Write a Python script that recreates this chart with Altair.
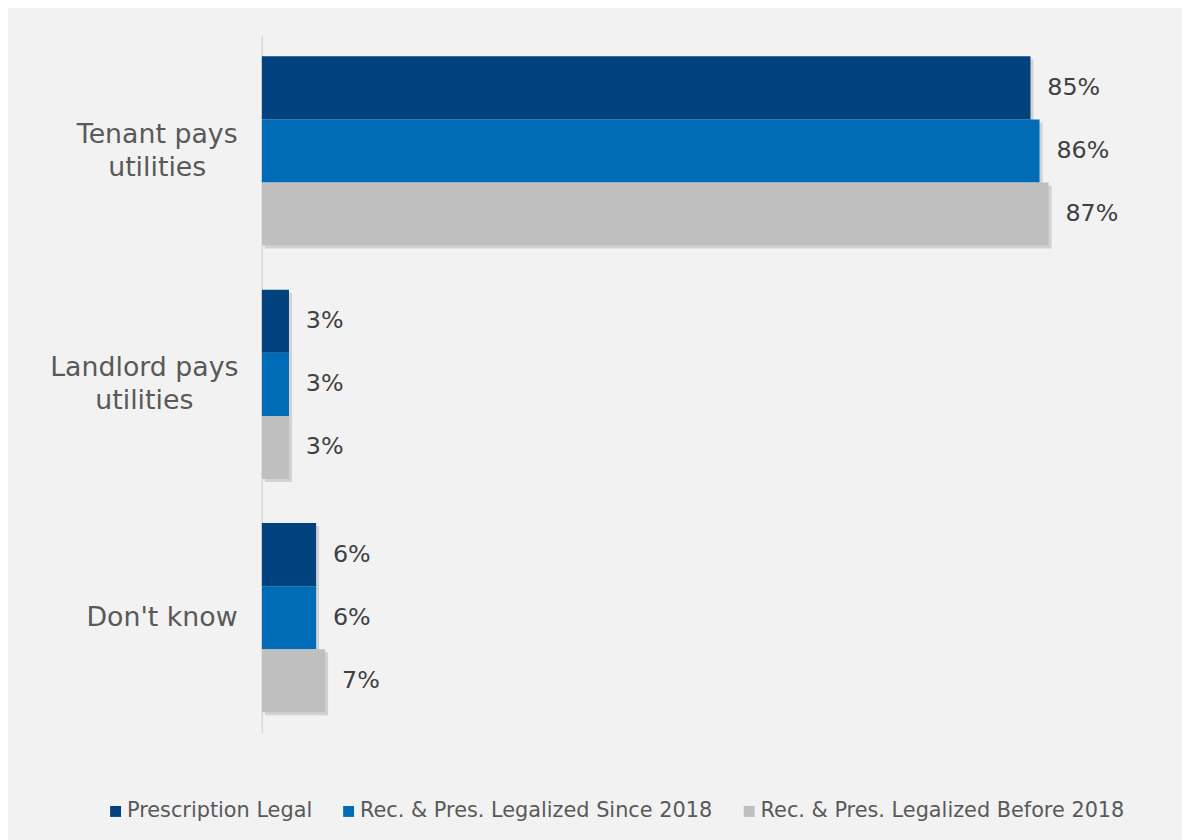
import altair as alt
import pandas as pd

categories = ["Tenant pays\nutilities", "Landlord pays\nutilities", "Don't know"]
series = [
    "Prescription Legal",
    "Rec. & Pres. Legalized Since 2018",
    "Rec. & Pres. Legalized Before 2018",
]
prescription_legal = [85, 3, 6]
legal_since_2018 = [86, 3, 6]
legal_before_2018 = [87, 3, 7]
colors = ["#00417e", "#006bb6", "#bfbfbf"]

rows = []
for s, vals in zip(series, [prescription_legal, legal_since_2018, legal_before_2018]):
    for c, v in zip(categories, vals):
        rows.append({"category": c, "series": s, "value": v, "label": f"{v}%"})
df = pd.DataFrame(rows)

FONT = "DejaVu Sans"
LBL = 27
H = 704
P_IN = 0.189
P_OUT = 0.09
STEP = H / (3 - P_IN + 2 * P_OUT)
BAND = STEP * (1 - P_IN)

y_axis = alt.Axis(
    title=None,
    ticks=False,
    grid=False,
    domainColor="#d9d9d9",
    domainWidth=1.5,
    labelFont=FONT,
    labelFontSize=LBL,
    labelColor="#595959",
    labelLineHeight=33,
    labelLimit=400,
    labelExpr="split(datum.label, '\\n')",
    labelAlign={
        "condition": {"test": "indexof(datum.value, '\\n') >= 0", "value": "center"},
        "value": "right",
    },
    labelPadding={
        "condition": [
            {"test": "indexof(datum.value, 'Tenant') >= 0", "value": 106},
            {"test": "indexof(datum.value, 'Landlord') >= 0", "value": 119},
        ],
        "value": 25,
    },
    labelOffset={
        "condition": {"test": "indexof(datum.value, '\\n') >= 0", "value": -16},
        "value": 0,
    },
)

y_enc = alt.Y(
    "category:N",
    sort=categories,
    scale=alt.Scale(paddingInner=P_IN, paddingOuter=P_OUT),
    axis=y_axis,
)
x_enc = alt.X("value:Q", scale=alt.Scale(domain=[0, 100]), axis=None)

shadow = alt.Chart(df).mark_bar(color="#000000", opacity=0.13, xOffset=3).encode(
    y=y_enc,
    x=x_enc,
    yOffset=alt.YOffset("series:N", sort=series, scale=alt.Scale(range=[3, BAND + 3])),
)

base = alt.Chart(df).encode(
    y=y_enc,
    x=x_enc,
    yOffset=alt.YOffset("series:N", sort=series),
)

bars = base.mark_bar().encode(
    color=alt.Color(
        "series:N",
        sort=series,
        scale=alt.Scale(domain=series, range=colors),
        legend=alt.Legend(
            title=None,
            orient="none",
            direction="horizontal",
            legendX=-158,
            legendY=772,
            symbolType="square",
            symbolSize=121,
            symbolStrokeWidth=0,
            labelFont=FONT,
            labelFontSize=21,
            labelColor="#595959",
            labelOffset=1,
            columnPadding=26,
            labelLimit=500,
        ),
    )
)

text = base.mark_text(
    align="left", baseline="middle", dx=17, font=FONT, fontSize=24, color="#404040"
).encode(text="label:N")

chart = (
    alt.layer(shadow, bars, text)
    .resolve_scale(yOffset="independent")
    .properties(
        width=912,
        height=H,
        autosize=alt.AutoSizeParams(type="none"),
        padding={"left": 256, "top": 24, "right": 16, "bottom": 104},
        background="#f2f2f2",
    )
    .configure_view(stroke=None)
)

chart.save("out.html", embed_options={"renderer": "svg", "actions": False})
